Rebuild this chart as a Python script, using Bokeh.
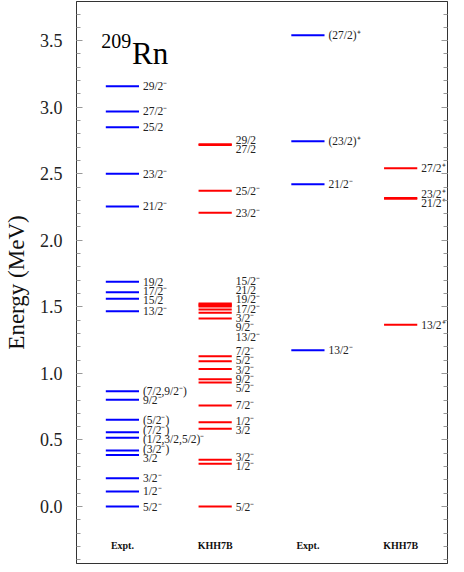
import numpy as np
from bokeh.plotting import figure
from bokeh.models import (ColumnDataSource, Range1d, SingleIntervalTicker,
                          LinearAxis, PrintfTickFormatter, CustomJSTickFormatter)
from bokeh.core.properties import value
from bokeh.embed import file_html
from bokeh.resources import INLINE

# ---------------- data (MeV) ----------------
expt1_E = [0.000, 0.113, 0.213, 0.388, 0.421, 0.516, 0.558, 0.651, 0.802, 0.866,
           1.467, 1.560, 1.610, 1.688, 2.254, 2.500, 2.850, 2.968, 3.158]
expt1_J = ["5/2⁻", "1/2⁻", "3/2⁻", "3/2", "(3/2⁻)", "(1/2,3/2,5/2)⁻", "(7/2⁻)",
           "(5/2⁻)", "9/2⁻", "(7/2,9/2⁻)", "13/2⁻", "15/2", "17/2⁻", "19/2",
           "21/2⁻", "23/2⁻", "25/2", "27/2⁻", "29/2⁻"]

khh1_E = [0.000, 0.321, 0.351, 0.584, 0.633, 0.759, 0.932, 0.957, 1.034, 1.092,
          1.129, 1.412, 1.455, 1.480, 1.503, 1.511, 1.518, 1.525, 2.207, 2.372,
          2.716, 2.722]
khh1_J = ["5/2⁻", "1/2⁻", "3/2⁻", "3/2", "1/2⁻", "7/2⁻", "5/2⁻", "9/2⁻", "3/2⁻",
          "5/2⁻", "7/2⁻", "13/2⁻", "9/2⁻", "3/2⁻", "17/2⁻", "19/2⁻", "21/2",
          "15/2⁻", "23/2⁻", "25/2⁻", "27/2", "29/2"]

expt2_E = [1.174, 2.422, 2.745, 3.541]
expt2_J = ["13/2⁻", "21/2⁻", "(23/2)⁺", "(27/2)⁺"]

khh2_E = [1.365, 2.312, 2.318, 2.542]
khh2_J = ["13/2⁺", "21/2⁺", "23/2⁺", "27/2⁺"]

columns = ["Expt.", "KHH7B", "Expt.", "KHH7B"]
colors = ["#0000ff", "#ff0000", "#0000ff", "#ff0000"]

FONT = "serif"
HALF = 0.179      # half width of level line (x units)
GAP = 0.070       # minimal label spacing (MeV)


def spread(energies, gap):
    e = np.asarray(energies, dtype=float)
    order = np.argsort(e, kind="stable")
    p = e[order].copy()
    for _ in range(2000):
        moved = False
        for i in range(len(p) - 1):
            d = p[i + 1] - p[i]
            if d < gap - 1e-9:
                s = (gap - d) / 2
                p[i] -= s
                p[i + 1] += s
                moved = True
        if not moved:
            break
    out = np.empty_like(p)
    out[order] = p
    return out.tolist()


p = figure(width=448, height=564, x_range=Range1d(-0.495, 3.505),
           y_range=Range1d(-0.428, 3.794), output_backend="svg",
           toolbar_location=None, min_border_left=67, min_border_right=1,
           min_border_top=1, min_border_bottom=1)
p.xaxis.visible = False
p.xgrid.visible = False
p.ygrid.visible = False
p.outline_line_color = "#333333"
p.outline_line_width = 1
p.background_fill_color = "white"
p.border_fill_color = "white"

ticker = SingleIntervalTicker(interval=0.5, num_minor_ticks=5)
ya = p.yaxis[0]
ya.ticker = ticker
ya.formatter = PrintfTickFormatter(format="%.1f")
ya.axis_label = "Energy (MeV)"
ya.axis_label_text_font = FONT
ya.axis_label_text_font_style = "normal"
ya.axis_label_text_font_size = "23px"
ya.axis_label_text_color = "#111111"
ya.axis_label_standoff = 8
ya.major_label_text_font = FONT
ya.major_label_text_font_size = "18px"
ya.major_label_text_color = "#222222"
ya.major_label_standoff = 14
ya.major_tick_in = 6
ya.major_tick_out = 0
ya.minor_tick_in = 4
ya.minor_tick_out = 0
ya.major_tick_line_color = "#999999"
ya.minor_tick_line_color = "#999999"
ya.axis_line_color = "#333333"

ra = LinearAxis(ticker=ticker, formatter=CustomJSTickFormatter(code="return ''"),
                major_tick_in=6, major_tick_out=0, minor_tick_in=4, minor_tick_out=0,
                major_label_standoff=0, major_tick_line_color="#999999",
                minor_tick_line_color="#999999", axis_line_color="#333333")
p.add_layout(ra, "right")

datasets = [(expt1_E, expt1_J), (khh1_E, khh1_J), (expt2_E, expt2_J), (khh2_E, khh2_J)]
for ci, (E, J) in enumerate(datasets):
    src = ColumnDataSource(dict(
        x0=[ci - HALF] * len(E), x1=[ci + HALF] * len(E), y=E,
        lx=[ci + HALF + 0.042] * len(E), ly=spread(E, GAP), t=J))
    p.segment(x0="x0", y0="y", x1="x1", y1="y", source=src,
              line_color=colors[ci], line_width=2)
    p.text(x="lx", y="ly", text="t", source=src, text_font=value(FONT),
           text_font_size="11.5px", text_baseline="middle", text_align="left",
           text_color="#222222")

# column names
p.text(x=list(range(len(columns))), y=[-0.293] * len(columns), text=columns,
       text_font=value(FONT), text_font_size="10px", text_font_style="bold",
       text_align="center", text_baseline="middle", text_color="#111111")

# nucleus label
p.text(x=[0.094], y=[3.501], text=["209"], text_font=value(FONT),
       text_font_size="20px", text_align="right", text_baseline="alphabetic",
       text_color="black")
p.text(x=[0.104], y=[3.403], text=["Rn"], text_font=value(FONT),
       text_font_size="31px", text_align="left", text_baseline="alphabetic",
       text_color="black")

open("out.html", "w").write(file_html(p, INLINE))
